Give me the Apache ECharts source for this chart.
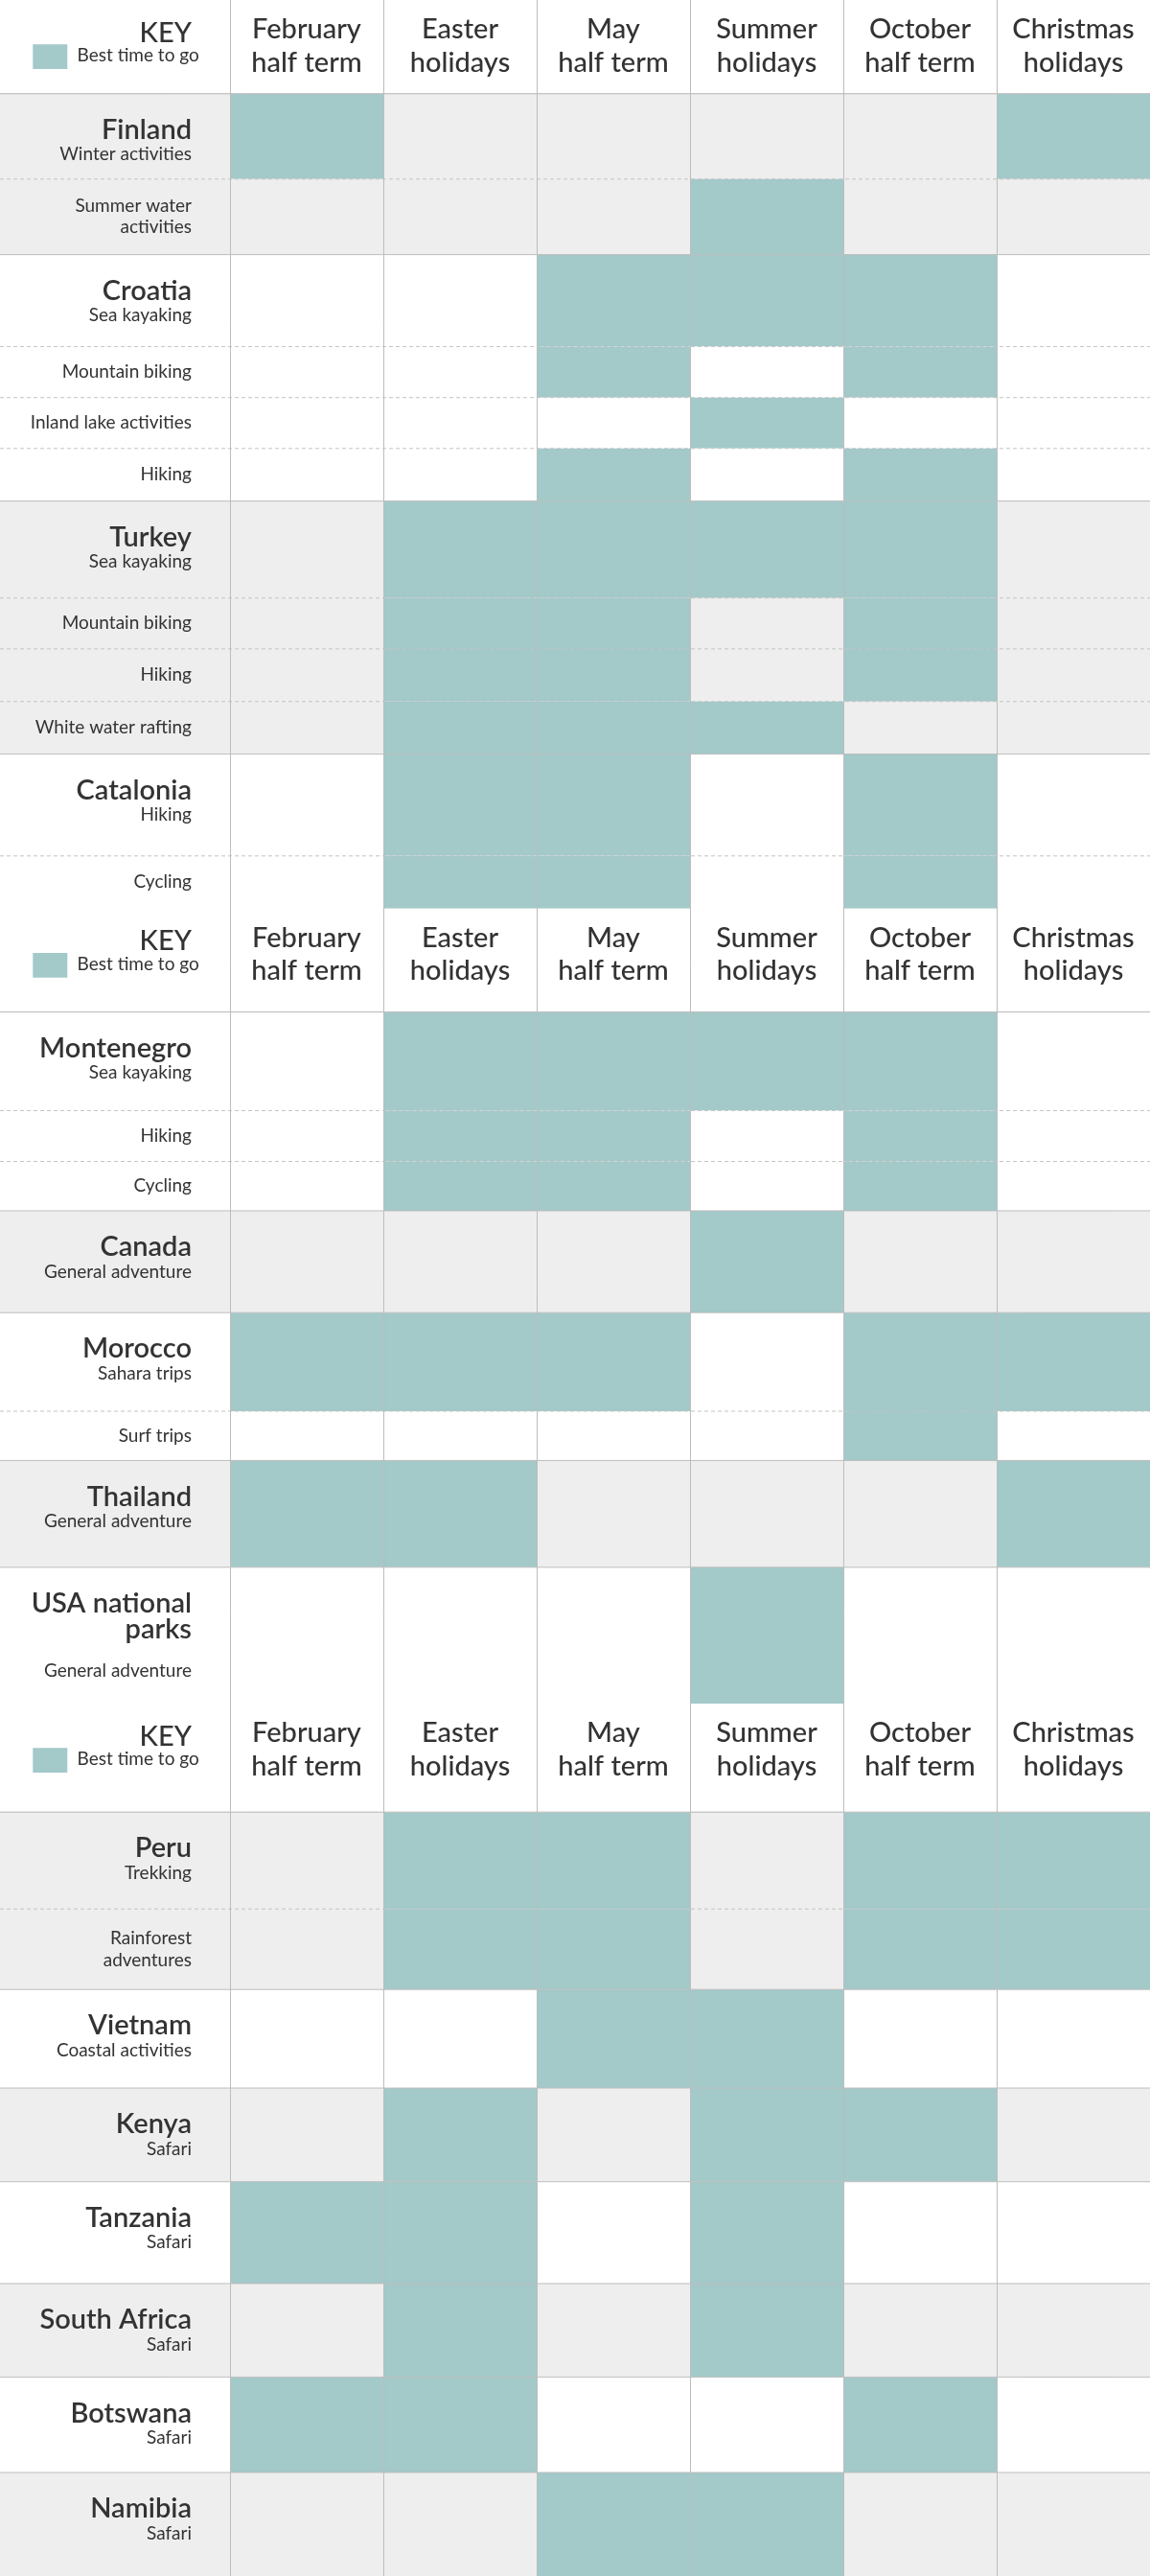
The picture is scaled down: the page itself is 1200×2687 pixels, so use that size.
<!DOCTYPE html>
<html><head><meta charset="utf-8">
<script src="https://cdn.jsdelivr.net/npm/echarts@6/dist/echarts.min.js"></script>
<style>html,body{margin:0;padding:0;background:#fff}#c{width:1200px;height:2687px}</style>
</head><body><div id="c"></div>
<script>
const periods = [["February","half term"],["Easter","holidays"],["May","half term"],["Summer","holidays"],["October","half term"],["Christmas","holidays"]];
const countries = ["Finland","Finland","Croatia","Croatia","Croatia","Croatia","Turkey","Turkey","Turkey","Turkey","Catalonia","Catalonia",
 "Montenegro","Montenegro","Montenegro","Canada","Morocco","Morocco","Thailand","USA national\nparks",
 "Peru","Peru","Vietnam","Kenya","Tanzania","South Africa","Botswana","Namibia"];
const activities = ["Winter activities","Summer water\nactivities","Sea kayaking","Mountain biking","Inland lake activities","Hiking",
 "Sea kayaking","Mountain biking","Hiking","White water rafting","Hiking","Cycling",
 "Sea kayaking","Hiking","Cycling","General adventure","Sahara trips","Surf trips","General adventure","General adventure",
 "Trekking","Rainforest\nadventures","Coastal activities","Safari","Safari","Safari","Safari","Safari"];
const bestTime = [
 [1,0,0,0,0,1],[0,0,0,1,0,0],[0,0,1,1,1,0],[0,0,1,0,1,0],[0,0,0,1,0,0],[0,0,1,0,1,0],
 [0,1,1,1,1,0],[0,1,1,0,1,0],[0,1,1,0,1,0],[0,1,1,1,0,0],[0,1,1,0,1,0],[0,1,1,0,1,0],
 [0,1,1,1,1,0],[0,1,1,0,1,0],[0,1,1,0,1,0],[0,0,0,1,0,0],[1,1,1,0,1,1],[0,0,0,0,1,0],[1,1,0,0,0,1],[0,0,0,1,0,0],
 [0,1,1,0,1,1],[0,1,1,0,1,1],[0,0,1,1,0,0],[0,1,0,1,1,0],[1,1,0,1,0,0],[0,1,0,1,0,0],[1,1,0,0,1,0],[0,0,1,1,0,0]];
const greyGroups = ["Finland","Turkey","Canada","Thailand","Peru","Kenya","South Africa","Namibia"];

// layout (reference units, 0..1568 tall)
const headerSpans = [[0,57],[553,616],[1037,1103]];
const rowBounds = [57,109,155,211,242,273,305,364,395,427,459,521,553,
  616,676,707,737,799,859,889,954,1037,
  1103,1162,1211,1271,1328,1390,1447,1505,1568];
const rowTops=[], rowBots=[];
(function(){let k=0;const starts=[0,12,20];const bases=[0,13,22];
 for(let s=0;s<3;s++){const n=[12,8,8][s];for(let i=0;i<n;i++){rowTops.push(rowBounds[bases[s]+i]);rowBots.push(rowBounds[bases[s]+i+1]);}}})();

const TEAL='#a3c9c9', GREY='#eeeeee', LINE='#c4c4c4', TXT='#333333';
const F='Lato, "Open Sans", sans-serif';
const S=1200/700;

const chart = echarts.init(document.getElementById('c'),null,{renderer:'canvas'});

function rowItem(params, api){
  const i = api.value(0);
  const country = countries[i];
  const first = i===0 || countries[i-1]!==country;
  const top = rowTops[i], bot = rowBots[i];
  const [x0,y0] = api.coord([-1.5, top]);
  const [x6,y1] = api.coord([6, bot]);
  const h = y1-y0;
  const children=[];
  const bg = greyGroups.includes(country)?GREY:'#fff';
  children.push({type:'rect',shape:{x:x0,y:y0,width:x6-x0,height:h},style:{fill:bg}});
  for(let c=0;c<6;c++){
    if(bestTime[i][c]){
      const a=api.coord([c,top]), b=api.coord([c+1,bot]);
      children.push({type:'rect',shape:{x:a[0],y:a[1],width:b[0]-a[0],height:b[1]-a[1]},style:{fill:TEAL}});
    }
  }
  const xr = api.coord([-0.25,0])[0];
  if(first){
    const nameLines = country.split('\n').length;
    children.push({type:'text',style:{text:country,x:xr,y:y0+14*S,align:'right',verticalAlign:'top',font:'600 '+(17*S).toFixed(0)+'px '+F,fill:TXT,lineHeight:16*S}});
    children.push({type:'text',style:{text:activities[i],x:xr,y:y0+(nameLines>1?63:37)*S,align:'right',verticalAlign:'middle',font:(11*S).toFixed(0)+'px '+F,fill:TXT,lineHeight:13*S}});
  } else {
    children.push({type:'text',style:{text:activities[i],x:xr,y:y0+h/2,align:'right',verticalAlign:'middle',font:(11*S).toFixed(0)+'px '+F,fill:TXT,lineHeight:13*S}});
  }
  // top border
  const prevHeader = headerSpans.some(hs=>hs[1]===top);
  children.push({type:'line',shape:{x1:x0,y1:y0,x2:x6,y2:y0},style:{stroke:(first||prevHeader)?'#bdbdbd':LINE,lineWidth:1,lineDash:(first||prevHeader)?null:[4,3]}});
  return {type:'group',children};
}

function headerItem(params, api){
  const k = api.value(0);
  const [top,bot]=headerSpans[k];
  const [x0,y0]=api.coord([-1.5,top]);
  const [x6,y1]=api.coord([6,bot]);
  const children=[{type:'rect',shape:{x:x0,y:y0,width:x6-x0,height:y1-y0},style:{fill:'#fff'}}];
  const xr = api.coord([-0.25,0])[0];
  children.push({type:'text',style:{text:'KEY',x:xr,y:y0+20*S,align:'right',verticalAlign:'middle',font:'500 '+(17*S).toFixed(0)+'px '+F,fill:TXT}});
  children.push({type:'rect',shape:{x:20*S,y:y0+27*S,width:21*S,height:15*S},style:{fill:TEAL}});
  children.push({type:'text',style:{text:'Best time to go',x:47*S,y:y0+34*S,align:'left',verticalAlign:'middle',font:(11*S).toFixed(0)+'px '+F,fill:TXT}});
  for(let c=0;c<6;c++){
    const cx=api.coord([c+0.5,0])[0];
    children.push({type:'text',style:{text:periods[c][0],x:cx,y:y0+18*S,align:'center',verticalAlign:'middle',font:'500 '+(17*S).toFixed(0)+'px '+F,fill:TXT}});
    children.push({type:'text',style:{text:periods[c][1],x:cx,y:y0+38*S,align:'center',verticalAlign:'middle',font:'500 '+(17*S).toFixed(0)+'px '+F,fill:TXT}});
  }
  return {type:'group',children};
}

function gridLines(params, api){
  const children=[];
  for(let c=0;c<6;c++){
    const a=api.coord([c,0]), b=api.coord([c,1568]);
    children.push({type:'line',shape:{x1:Math.round(a[0])+0.5,y1:a[1],x2:Math.round(a[0])+0.5,y2:b[1]},style:{stroke:'#bdbdbd',lineWidth:1}});
  }
  headerSpans.forEach(hs=>{
    const a=api.coord([-1.5,hs[1]]), b=api.coord([6,hs[1]]);
    children.push({type:'line',shape:{x1:a[0],y1:a[1],x2:b[0],y2:b[1]},style:{stroke:'#bdbdbd',lineWidth:1}});
  });
  return {type:'group',children};
}

chart.setOption({
  animation:false,
  grid:{left:0,right:0,top:0,bottom:0},
  xAxis:{type:'value',min:-1.5,max:6,show:false},
  yAxis:{type:'value',min:0,max:1568,inverse:true,show:false},
  series:[
    {type:'custom',renderItem:rowItem,data:countries.map((c,i)=>[i]),clip:false},
    {type:'custom',renderItem:headerItem,data:headerSpans.map((h,i)=>[i]),clip:false},
    {type:'custom',renderItem:gridLines,data:[[0]],clip:false,z:5}
  ]
});
</script></body></html>
